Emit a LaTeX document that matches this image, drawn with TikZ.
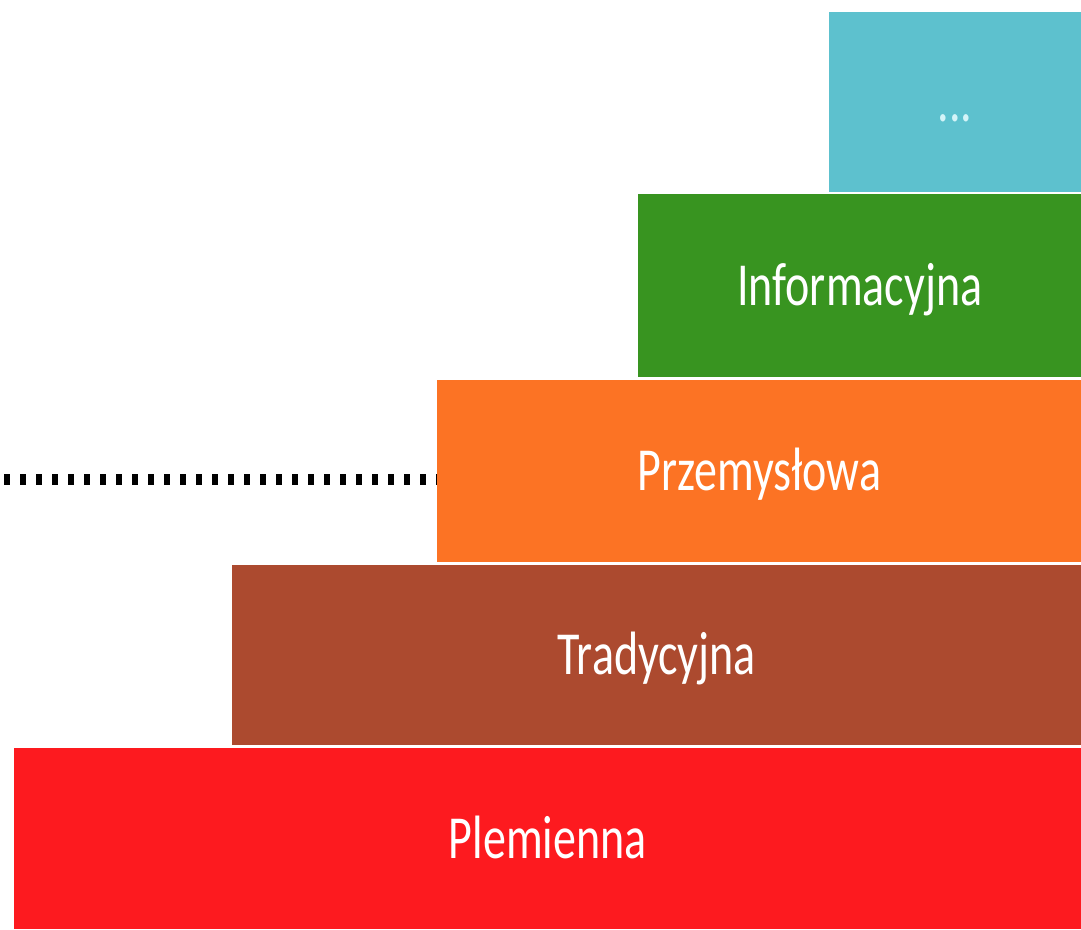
\documentclass[tikz,border=0pt]{standalone}
\usepackage{fontspec}
\setmainfont{Carlito}
\usepackage{xcolor}
\definecolor{tiercyan}{HTML}{5DC1CE}
\definecolor{tiergreen}{HTML}{389420}
\definecolor{tierorange}{HTML}{FC7324}
\definecolor{tierbrown}{HTML}{AC4A2F}
\definecolor{tierred}{HTML}{FD1A1F}
\definecolor{dotcyan}{HTML}{D4F4F8}
\usetikzlibrary{positioning}
\newcommand{\tallword}[1]{\scalebox{1}[1.33]{#1}}

\begin{document}
\begin{tikzpicture}[x=1pt, y=-1pt,
    tier/.style={rectangle, anchor=north west, inner sep=0pt,
                 text=white, font=\fontsize{46}{50}\selectfont,
                 text height=39pt, text depth=0pt},
    dotline/.style={draw=black, line width=11pt,
                    dash pattern=on 6pt off 10pt, dash phase=12pt}]
  \useasboundingbox (0,0) rectangle (1081,929);
  % stacked tiers, widest at the bottom
  \node[tier, fill=tierred, minimum width=1067pt, minimum height=181pt]
    (plem) at (14,748) {\tallword{Plemienna}};
  \node[tier, fill=tierbrown, minimum width=849pt, minimum height=180pt]
    (trad) at (232,565) {\tallword{Tradycyjna}};
  \node[tier, fill=tierorange, minimum width=644pt, minimum height=182pt]
    (przem) at (437,380) {\tallword{Przemysłowa}};
  \node[tier, fill=tiergreen, minimum width=443pt, minimum height=183pt]
    (inf) at (638,194) {\tallword{Informacyjna}};
  \node[tier, fill=tiercyan, text=dotcyan, minimum width=252pt, minimum height=180pt]
    (next) at (829,12) {\tallword{...}};

  % dotted marker leading to the industrial tier
  \coordinate (dotStart) at (0,479);
  \draw[dotline] (dotStart) -- (dotStart -| przem.west);
\end{tikzpicture}
\end{document}
